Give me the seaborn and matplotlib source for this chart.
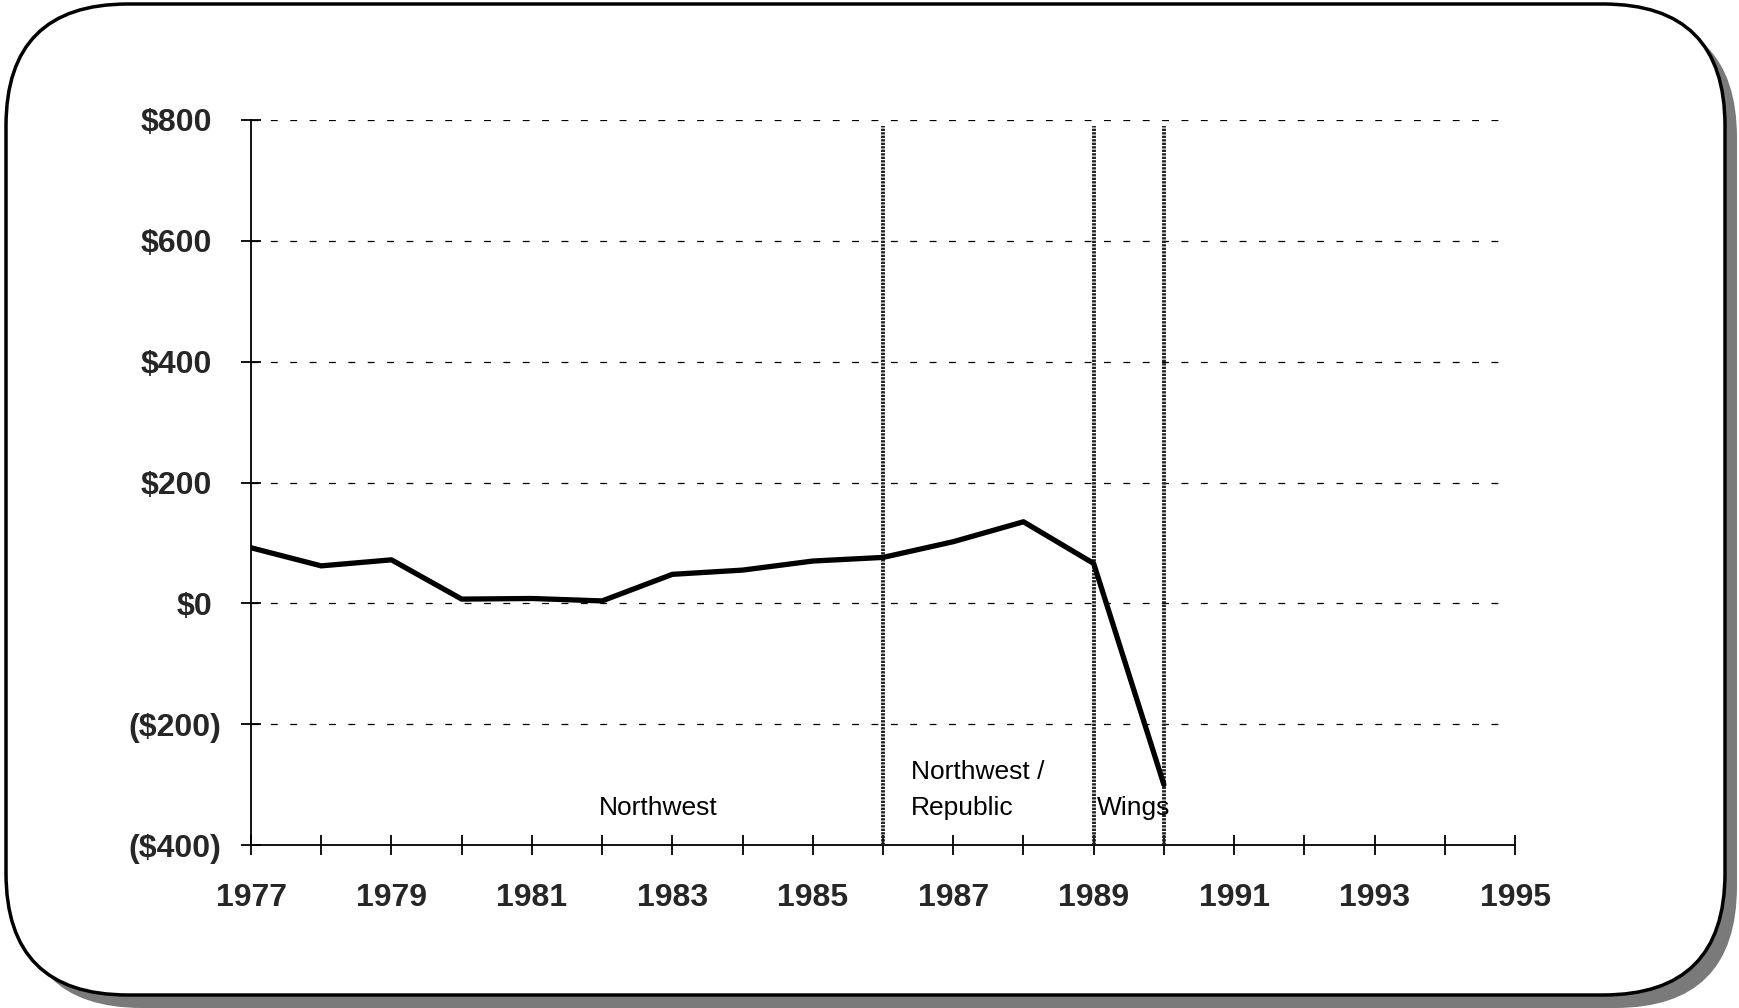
import matplotlib
matplotlib.use("Agg")
import matplotlib.pyplot as plt
import matplotlib.transforms as mtransforms
from matplotlib.patches import FancyBboxPatch
import seaborn as sns
import pandas as pd

years = [1977, 1978, 1979, 1980, 1981, 1982, 1983, 1984, 1985, 1986, 1987, 1988, 1989, 1990]
values = [92, 62, 72, 7, 8, 4, 48, 55, 70, 76, 102, 135, 66, -300]
era_bounds = [1986, 1989, 1990]
era_labels = ["Northwest", "Northwest /\nRepublic", "Wings"]
era_label_x = [1981.95, 1986.4, 1989.05]
era_label_y = [-350, -350, -350]
ytick_vals = [-400, -200, 0, 200, 400, 600, 800]
ytick_labels = ["($400)", "($200)", "$0", "$200", "$400", "$600", "$800"]
all_year_ticks = list(range(1977, 1996))
xtick_label_years = list(range(1977, 1996, 2))

sns.set_style("white")
plt.rcParams['font.family'] = ['Liberation Sans', 'DejaVu Sans']

W, H = 1739, 1008
fig = plt.figure(figsize=(W / 100, H / 100), dpi=100)

# rounded frame with shadow
shadow = FancyBboxPatch((20 / W, 0.0), (W - 22) / W, (H - 16) / H,
                        boxstyle="round,pad=0,rounding_size=0.07",
                        transform=fig.transFigure, facecolor="#7a7a7a",
                        edgecolor="none", mutation_aspect=W / H, zorder=0)
frame = FancyBboxPatch((6 / W, 13 / H), (W - 20) / W, (H - 17) / H,
                       boxstyle="round,pad=0,rounding_size=0.07",
                       transform=fig.transFigure, facecolor="white",
                       edgecolor="black", linewidth=2.5, mutation_aspect=W / H, zorder=1)
fig.patches.extend([shadow, frame])

ax = fig.add_axes([251 / W, 1 - 845 / H, (1515 - 251) / W, (845 - 120) / H])
ax.set_facecolor("none")
ax.set_zorder(2)

df = pd.DataFrame({"year": years, "value": values})
sns.lineplot(data=df, x="year", y="value", ax=ax, color="black", linewidth=3.8, zorder=5)

ax.set_xlim(1977, 1995)
ax.set_ylim(-400, 800)

# dashed horizontal grid
ax.hlines([v for v in ytick_vals if v > -400], 1977, 1994.85, colors="black",
          linestyles=(0, (5.5, 10)), linewidth=0.9, zorder=1)

# era boundaries
for xb in era_bounds:
    ax.vlines(xb, -400, 790, colors="#222222", linewidth=2.8,
              linestyles=(0, (0.6, 0.3)), zorder=3)

for lx, ly, lab in zip(era_label_x, era_label_y, era_labels):
    ax.text(lx, ly, lab, fontsize=19, ha="left", va="baseline", linespacing=1.6,
            color="black", zorder=6)

for s in ["top", "right"]:
    ax.spines[s].set_visible(False)
for s in ["left", "bottom"]:
    ax.spines[s].set_color("black")
    ax.spines[s].set_linewidth(1.3)

ax.set_xticks(all_year_ticks)
ax.set_xticklabels([str(y) if y in xtick_label_years else "" for y in all_year_ticks])
ax.set_yticks(ytick_vals)
ax.set_yticklabels(ytick_labels)
ax.tick_params(axis="both", direction="inout", length=15, width=1.3, color="black",
               bottom=True, left=True)
ax.tick_params(axis="x", pad=20, labelsize=23)
ax.tick_params(axis="y", pad=14, labelsize=23)
for lab in ax.get_xticklabels() + ax.get_yticklabels():
    lab.set_fontweight("bold")
# accounting-style alignment: positive values leave room for ")"
shift = mtransforms.ScaledTranslation(-9 / 100, 0, fig.dpi_scale_trans)
for lab in ax.get_yticklabels():
    if not lab.get_text().startswith("("):
        lab.set_transform(lab.get_transform() + shift)
ax.set_xlabel("")
ax.set_ylabel("")

fig.savefig("out.png", dpi=100)
